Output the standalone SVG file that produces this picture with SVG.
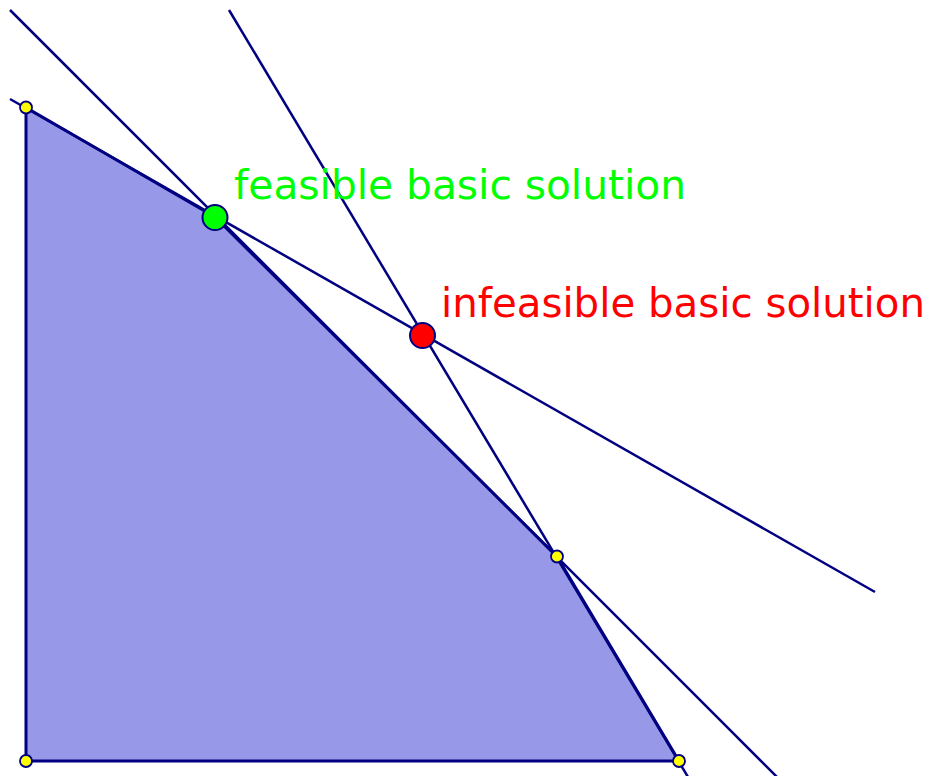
<svg xmlns="http://www.w3.org/2000/svg" width="938" height="776" viewBox="0 0 938 776">
<style>
.line{stroke:#000080;stroke-width:2.5;fill:none}
.poly{fill:#9898e8;stroke:#000080;stroke-width:3;stroke-linejoin:round}
.v{fill:#ffff00;stroke:#000080;stroke-width:1.8}
.big{stroke:#000080;stroke-width:2}
.lbl{font-family:"DejaVu Sans","Liberation Sans",sans-serif;font-size:41.3px}
</style>
<rect width="938" height="776" fill="#ffffff"/>
<g id="region">
<polygon class="poly" points="26,107.5 215,217 557,556.5 679,761 26,761"/>
</g>
<g id="connectors">
<line class="line" x1="10" y1="99" x2="875" y2="592"/>
<line class="line" x1="10" y1="10" x2="777" y2="777"/>
<line class="line" x1="229" y1="10" x2="688" y2="777"/>
</g>
<g id="v1"><circle class="v" cx="26" cy="107.5" r="6"/></g>
<g id="v2"><circle class="v" cx="557" cy="556.5" r="6"/></g>
<g id="v3"><circle class="v" cx="679" cy="761" r="6"/></g>
<g id="v4"><circle class="v" cx="26" cy="761" r="6"/></g>
<g id="feasible">
<circle class="big" cx="215" cy="217.5" r="12.5" fill="#00ff00"/>
<text class="lbl" x="234" y="199" fill="#00ff00" textLength="452" lengthAdjust="spacingAndGlyphs">feasible basic solution</text>
</g>
<g id="infeasible">
<circle class="big" cx="422.5" cy="335.5" r="12.5" fill="#ff0000"/>
<text class="lbl" x="441" y="317" fill="#ff0000" textLength="484" lengthAdjust="spacingAndGlyphs">infeasible basic solution</text>
</g>
</svg>
